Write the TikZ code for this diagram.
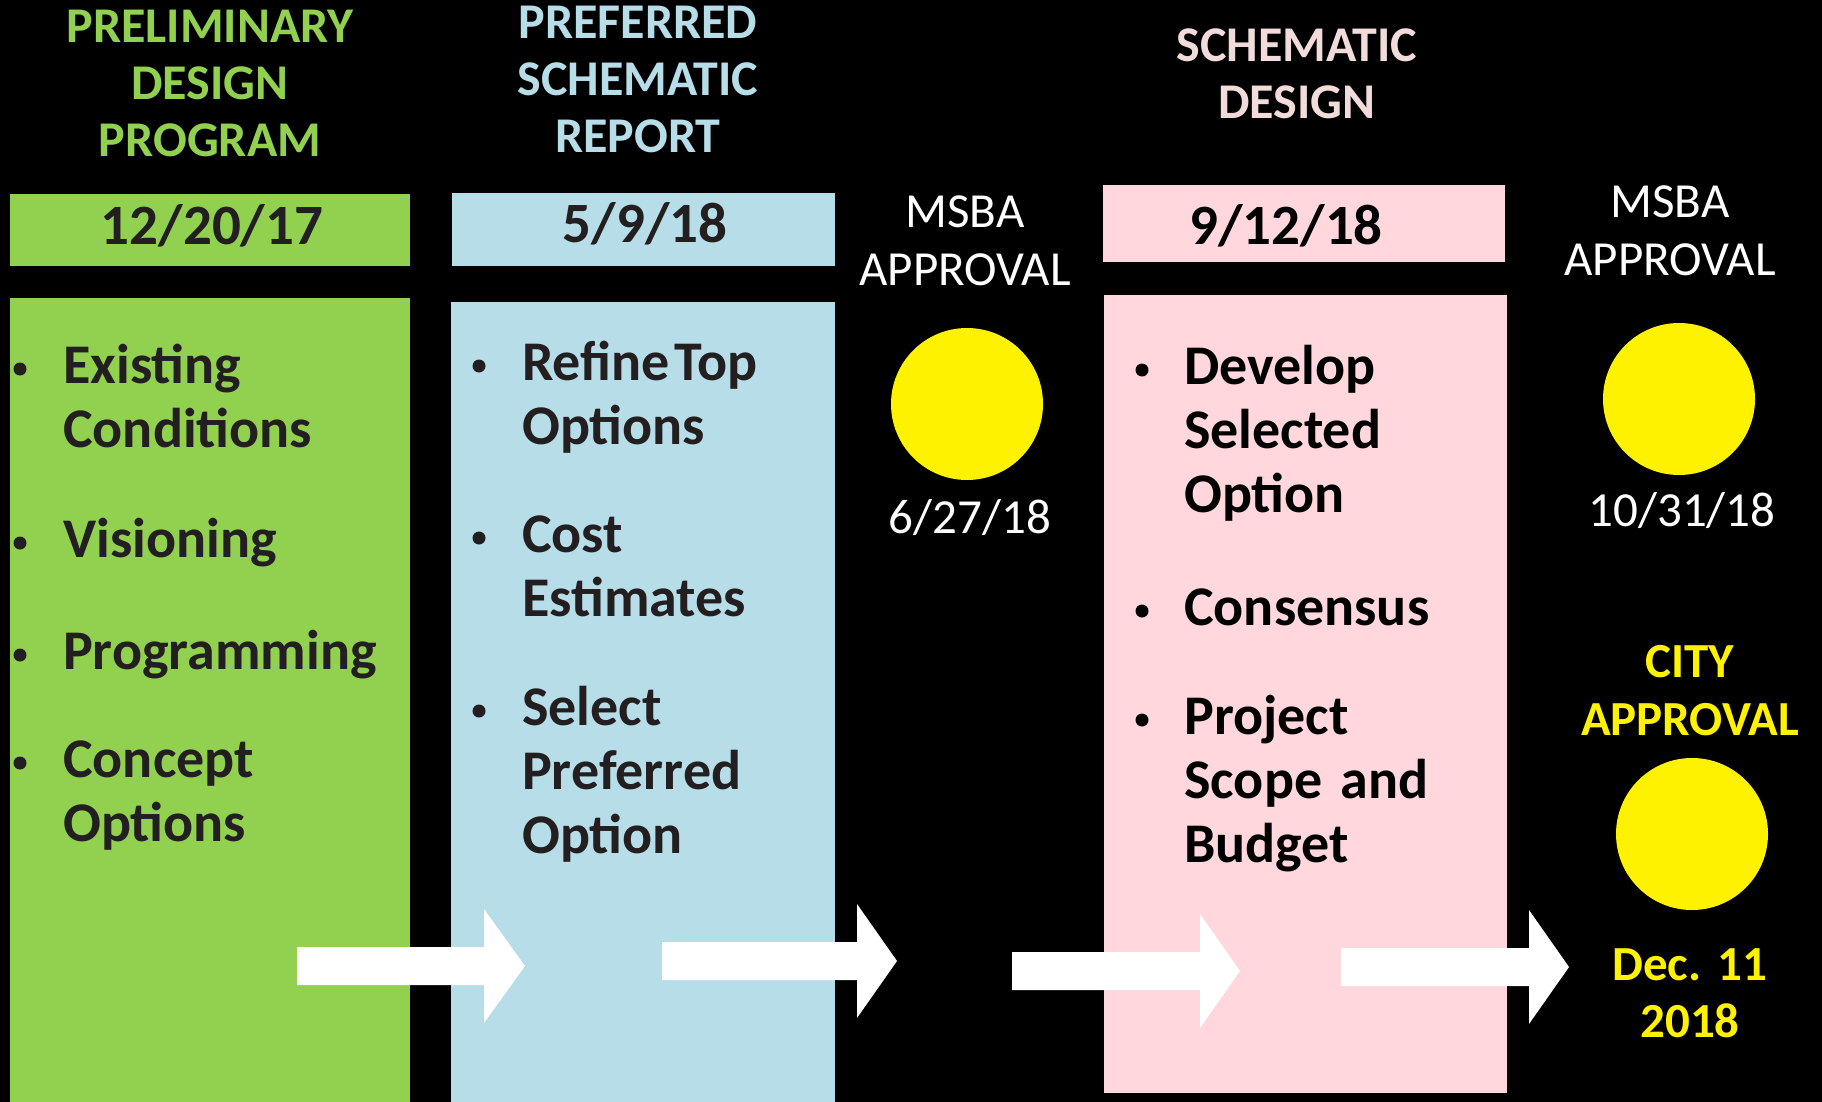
\documentclass[tikz,border=0pt]{standalone}
\usepackage{fontspec}
\setmainfont{Carlito}
\definecolor{prelim}{HTML}{92D050}
\definecolor{prefer}{HTML}{B7DDE8}
\definecolor{schem}{HTML}{FFD7DC}
\definecolor{schemtitle}{HTML}{F2DCDB}
\definecolor{approve}{HTML}{FFF200}
\definecolor{ink}{HTML}{231F20}
\begin{document}
\begin{tikzpicture}[x=1pt,y=-1pt,inner sep=0pt]
  \tikzstyle{title}=[text width=340pt,align=center,anchor=base,font=\bfseries\fontsize{50}{57}\selectfont]
  \tikzstyle{date}=[anchor=base,font=\bfseries\fontsize{57}{64}\selectfont,text=ink]
  \tikzstyle{item}=[anchor=base west,text width=380pt,align=left,font=\bfseries\fontsize{56}{64}\selectfont]
  \tikzstyle{note}=[text width=260pt,align=center,anchor=base,text=white,font=\fontsize{49}{58}\selectfont]
  \tikzstyle{milestone}=[circle,minimum size=152pt,fill=approve]

  % background
  \fill[black] (0,0) rectangle (1822,1102);
  \useasboundingbox (0,0) rectangle (1822,1102);

  % phase titles
  \node[title,text=prelim]     (gtitle) at (210,43)   {PRELIMINARY\\DESIGN\\PROGRAM};
  \node[title,text=prefer]     (btitle) at (638,39)   {PREFERRED\\SCHEMATIC\\REPORT};
  \node[title,text=schemtitle] (ptitle) at (1297,62)  {SCHEMATIC\\DESIGN};

  % date bars
  \fill[prelim] (10,194) rectangle (410,266);
  \fill[prefer] (452,193) rectangle (835,266);
  \fill[schem]  (1103,185) rectangle (1505,262);
  \node[date] (gdate) at (212,244) {12/20/17};
  \node[date] (bdate) at (645,242) {5/9/18};
  \node[date,text=black] (pdate) at (1286,244) {9/12/18};

  % phase columns
  \fill[prelim] (10,298) rectangle (410,1102);
  \fill[prefer] (451,302) rectangle (835,1102);
  \fill[schem]  (1104,295) rectangle (1507,1093);

  \foreach \ty/\txt in {383/{Existing\\Conditions}, 557/Visioning, 669/Programming, 777/{Concept\\Options}} {
    \fill[ink] (20,\ty-14) circle (6.5);
    \node[item,text=ink] at (63,\ty) {\txt};
  }
  \foreach \ty/\txt in {380/{Refine\hspace{0.08em}Top\\Options}, 552/{Cost\\Estimates}, 725/{Select\\Preferred\\Option}} {
    \fill[ink] (479,\ty-14) circle (6.5);
    \node[item,text=ink] at (522,\ty) {\txt};
  }
  \foreach \ty/\txt in {384/{Develop\\Selected\\Option}, 625/Consensus, 734/{Project\\Scope and\\Budget}} {
    \fill[black] (1142,\ty-14) circle (6.5);
    \node[item,text=black] at (1184,\ty) {\txt};
  }

  % approvals
  \node[note] (msba1) at (965,227) {MSBA\\APPROVAL};
  \node[milestone] (dot1) at (967,404) {};
  \node[note] (when1) at (970,533) {6/27/18};

  \node[note] (msba2) at (1670,218) {MSBA\\APPROVAL};
  \node[milestone] (dot2) at (1679,399) {};
  \node[note] (when2) at (1682,526) {10/31/18};

  \node[note,text=approve,font=\bfseries\fontsize{49}{58}\selectfont] (city) at (1690,677) {CITY\\APPROVAL};
  \node[milestone] (dot3) at (1692,834) {};
  \node[note,text=approve,font=\bfseries\fontsize{49}{57}\selectfont] (when3) at (1690,980) {Dec.\ 11\\2018};

  % block arrows
  \foreach \xa/\xb/\xc/\yc in {297/484/525/966, 662/857/897/961, 1012/1200/1240/971, 1341/1529/1569/967}
    \fill[white] (\xa,\yc-19) -- (\xb,\yc-19) -- (\xb,\yc-57) -- (\xc,\yc)
                 -- (\xb,\yc+57) -- (\xb,\yc+19) -- (\xa,\yc+19) -- cycle;
\end{tikzpicture}
\end{document}
